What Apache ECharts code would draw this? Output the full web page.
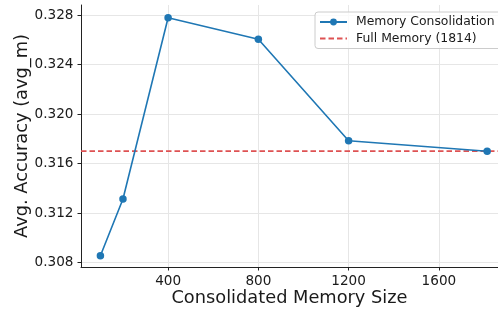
<!DOCTYPE html>
<html>
<head>
<meta charset="utf-8">
<script src="https://cdn.jsdelivr.net/npm/echarts@6/dist/echarts.min.js"></script>
<style>
  html, body { margin: 0; padding: 0; background: #fff; }
  #chart { width: 498px; height: 311px; }
</style>
</head>
<body>
<div id="chart"></div>
<script>
// data
const memorySizes = [100, 200, 400, 800, 1200, 1814]
const accuracy = [0.30855, 0.31313, 0.32778, 0.32604, 0.31784, 0.31699]
const fullMemoryAcc = 0.3170
const xTicks = [400, 800, 1200, 1600]
const yTicks = [0.308, 0.312, 0.316, 0.320, 0.324, 0.328]

const X_MIN = 14
const X_MAX = 1862
const Y_MIN = 0.30764
const Y_MAX = 0.32881

const font = 'DejaVu Sans'
const textColor = '#1a1a1a'
const blue = '#1f77b4'
const red = '#de5253'

const chart = echarts.init(document.getElementById('chart'), null, { renderer: 'canvas' })
chart.setOption({
  animation: false,
  backgroundColor: '#fff',
  grid: { left: 81, right: 0, top: 5, bottom: 44, outerBoundsMode: 'none', containLabel: false },
  xAxis: {
    type: 'value',
    min: X_MIN,
    max: X_MAX,
    name: 'Consolidated Memory Size',
    nameLocation: 'middle',
    nameGap: 22,
    nameMoveOverlap: false,
    nameTextStyle: { fontFamily: font, fontSize: 17.8, color: textColor },
    axisLine: { show: true, lineStyle: { color: '#222', width: 1 } },
    axisTick: { show: true, customValues: xTicks, length: 3.5, lineStyle: { color: '#222' } },
    axisLabel: {
      customValues: xTicks, fontFamily: font, fontSize: 13.6, color: textColor, margin: 7,
      formatter: v => String(v)
    },
    splitLine: { show: true, customValues: xTicks, lineStyle: { color: '#e6e6e6', width: 1 } }
  },
  yAxis: {
    type: 'value',
    min: Y_MIN,
    max: Y_MAX,
    name: 'Avg. Accuracy (avg_m)',
    nameLocation: 'middle',
    nameGap: 50,
    nameMoveOverlap: false,
    nameTextStyle: { fontFamily: font, fontSize: 17.8, color: textColor },
    axisLine: { show: true, lineStyle: { color: '#222', width: 1 } },
    axisTick: { show: true, customValues: yTicks, length: 3.5, lineStyle: { color: '#222' } },
    axisLabel: {
      customValues: yTicks, fontFamily: font, fontSize: 13.6, color: textColor, margin: 7.5,
      formatter: v => v.toFixed(3)
    },
    splitLine: { show: true, customValues: yTicks, lineStyle: { color: '#e6e6e6', width: 1 } }
  },
  legend: {
    orient: 'vertical',
    left: 315,
    top: 12,
    padding: [4, 10, 4, 4],
    itemGap: 4.5,
    itemWidth: 27,
    itemHeight: 8.5,
    backgroundColor: 'rgba(255,255,255,0.8)',
    borderColor: '#cccccc',
    borderWidth: 1,
    borderRadius: 3,
    textStyle: { fontFamily: font, fontSize: 12.4, color: textColor, padding: [0, 0, 0, 4] },
    data: [
      { name: 'Memory Consolidation' },
      // the dashed reference line has no marker in the legend
      { name: 'Full Memory (1814)', itemStyle: { opacity: 0 } }
    ]
  },
  series: [
    {
      name: 'Memory Consolidation',
      type: 'line',
      data: memorySizes.map((x, i) => [x, accuracy[i]]),
      symbol: 'circle',
      symbolSize: 7.5,
      itemStyle: { color: blue },
      lineStyle: { color: blue, width: 1.6 },
      z: 3
    },
    {
      name: 'Full Memory (1814)',
      type: 'line',
      data: [[X_MIN, fullMemoryAcc], [X_MAX, fullMemoryAcc]],
      symbol: 'none',
      itemStyle: { color: red },
      lineStyle: { color: red, width: 1.8, type: [5.5, 3] },
      z: 2
    }
  ]
})
</script>
</body>
</html>
